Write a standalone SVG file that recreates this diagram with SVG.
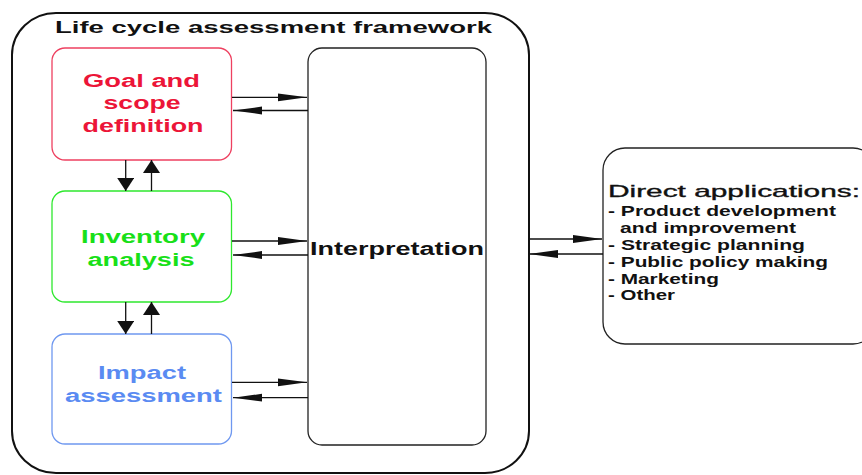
<svg xmlns="http://www.w3.org/2000/svg" width="862" height="475" viewBox="0 0 862 475">
<style>
text{font-family:"Liberation Sans",Arial,sans-serif;}
.b{font-weight:bold;}
.box{fill:#fff;stroke-width:1.3;}
.frame{fill:#fff;stroke:#111;stroke-width:2;}
.ln{stroke:#111;stroke-width:1.3;fill:none;}
.h{marker-end:url(#ah);}
.v{marker-end:url(#av);}
.red{fill:#ec1538;}
.green{fill:#18e018;}
.blue{fill:#5a8bf2;}
.lab{font-size:18px;text-anchor:middle;}
.item{font-size:15px;font-weight:bold;fill:#111;}
</style>
<defs>
<marker id="ah" markerUnits="userSpaceOnUse" markerWidth="30" markerHeight="9" viewBox="0 0 30 9" refX="29" refY="4.5" orient="auto">
<path d="M0,0.6 L29,4.5 L0,8.4 z" fill="#111"/>
</marker>
<marker id="av" markerUnits="userSpaceOnUse" markerWidth="14" markerHeight="17" viewBox="0 0 14 17" refX="13" refY="8.5" orient="auto">
<path d="M0,0 L13,8.5 L0,17 z" fill="#111"/>
</marker>
</defs>
<g id="frame">
<rect class="frame" x="12" y="13" width="517" height="460" rx="44" ry="42"/>
<text class="b" x="55" y="33" font-size="16" fill="#111" textLength="437" lengthAdjust="spacingAndGlyphs">Life cycle assessment framework</text>
</g>
<g id="goal">
<rect class="box" x="52" y="48" width="179.5" height="112" rx="13" stroke="#ee4060"/>
<text class="b lab red" x="141.5" y="87" textLength="117" lengthAdjust="spacingAndGlyphs">Goal and</text>
<text class="b lab red" x="142" y="109" textLength="77" lengthAdjust="spacingAndGlyphs">scope</text>
<text class="b lab red" x="143" y="132" textLength="121" lengthAdjust="spacingAndGlyphs">definition</text>
</g>
<g id="inventory">
<rect class="box" x="52" y="191" width="179.5" height="111" rx="13" stroke="#2ee82e"/>
<text class="b lab green" x="143" y="243" textLength="124" lengthAdjust="spacingAndGlyphs">Inventory</text>
<text class="b lab green" x="141" y="266" textLength="107" lengthAdjust="spacingAndGlyphs">analysis</text>
</g>
<g id="impact">
<rect class="box" x="52" y="334" width="179.5" height="110" rx="13" stroke="#6f98f0"/>
<text class="b lab blue" x="142" y="379" textLength="88" lengthAdjust="spacingAndGlyphs">Impact</text>
<text class="b lab blue" x="143.5" y="402" textLength="157" lengthAdjust="spacingAndGlyphs">assessment</text>
</g>
<g id="interpretation">
<rect class="box" x="308" y="48" width="178" height="397" rx="14" stroke="#222"/>
<text class="b" x="310" y="255" font-size="18" fill="#111" textLength="174" lengthAdjust="spacingAndGlyphs">Interpretation</text>
</g>
<g id="applications">
<rect class="box" x="603" y="148" width="272" height="196" rx="22" stroke="#222"/>
<text x="608" y="197" font-size="17" fill="#111" stroke="#111" stroke-width="0.35" textLength="252" lengthAdjust="spacingAndGlyphs">Direct applications:</text>
<text class="item" x="608" y="216" textLength="228" lengthAdjust="spacingAndGlyphs">- Product development</text>
<text class="item" x="620" y="233" textLength="176" lengthAdjust="spacingAndGlyphs">and improvement</text>
<text class="item" x="608" y="250" textLength="197" lengthAdjust="spacingAndGlyphs">- Strategic planning</text>
<text class="item" x="608" y="267" textLength="220" lengthAdjust="spacingAndGlyphs">- Public policy making</text>
<text class="item" x="608" y="284" textLength="111" lengthAdjust="spacingAndGlyphs">- Marketing</text>
<text class="item" x="608" y="300" textLength="67" lengthAdjust="spacingAndGlyphs">- Other</text>
</g>
<g id="connectors">
<line class="ln h" x1="232" y1="97.3" x2="307" y2="97.3"/>
<line class="ln h" x1="308" y1="110.5" x2="233" y2="110.5"/>
<line class="ln h" x1="232" y1="241" x2="307" y2="241"/>
<line class="ln h" x1="308" y1="255" x2="233" y2="255"/>
<line class="ln h" x1="232" y1="382.3" x2="307" y2="382.3"/>
<line class="ln h" x1="308" y1="397.7" x2="233" y2="397.7"/>
<line class="ln h" x1="529" y1="239" x2="602" y2="239"/>
<line class="ln h" x1="603" y1="254" x2="529" y2="254"/>
<line class="ln v" x1="125.7" y1="160" x2="125.7" y2="191"/>
<line class="ln v" x1="151.5" y1="191" x2="151.5" y2="160"/>
<line class="ln v" x1="125.7" y1="302" x2="125.7" y2="334"/>
<line class="ln v" x1="151.5" y1="334" x2="151.5" y2="302"/>
</g>
</svg>
